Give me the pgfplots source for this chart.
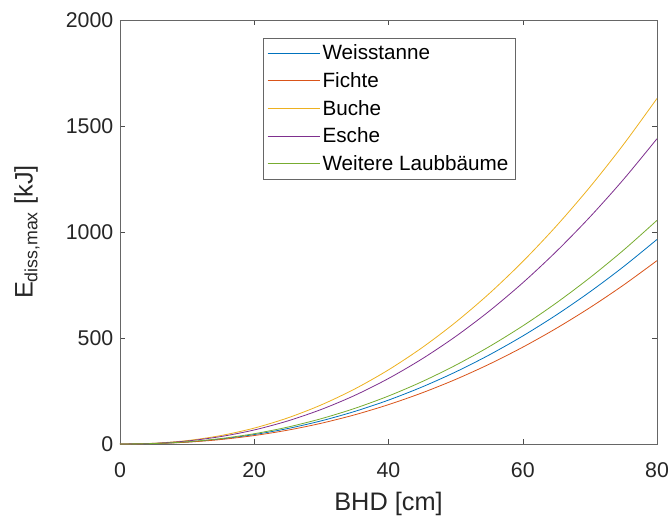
\documentclass[border=0pt]{standalone}
\usepackage{pgfplots}
\pgfplotsset{compat=1.18}
\usepackage{fontspec}
\setmainfont{Liberation Sans}
\definecolor{c1}{rgb}{0,0.447,0.741}
\definecolor{c2}{rgb}{0.85,0.325,0.098}
\definecolor{c3}{rgb}{0.929,0.694,0.125}
\definecolor{c4}{rgb}{0.494,0.184,0.556}
\definecolor{c5}{rgb}{0.466,0.674,0.188}
\definecolor{axgray}{rgb}{0.15,0.15,0.15}
\begin{document}
\begin{tikzpicture}
\begin{axis}[name=ax,
  scale only axis, width=402.75pt, height=318pt,
  xmin=0, xmax=80, ymin=0, ymax=2000,
  xtick={0,20,40,60,80}, ytick={0,500,1000,1500,2000},
  tick align=inside, tick pos=both,
  axis line style={gray!80!black, line width=0.5pt},
  major tick style={gray!60!black},
  major tick length=4pt,
  ticklabel style={font=\fontsize{16}{18}\selectfont, text=axgray},
  xticklabel style={anchor=base, yshift=-24.75pt},
  yticklabel style={xshift=-1.5pt},
  /pgf/number format/assume math mode=true,
  /pgf/number format/set thousands separator={},
  xlabel={BHD [cm]}, ylabel={E\textsubscript{diss,max} [kJ]},
  label style={font=\fontsize{19}{22}\selectfont, text=axgray},
  xlabel style={at={(axis description cs:0.5,-0.1557)}, anchor=base},
  ylabel style={at={(axis description cs:-0.1732,0.5)}, anchor=center},
  legend style={at={(0.266,0.958)}, anchor=north west, draw=gray!80!black,
    font=\fontsize{15.5}{18}\selectfont, row sep=4pt, inner xsep=3pt, inner ysep=3pt},
  legend cell align=left,
  legend image code/.code={\draw[#1] (0pt,0pt) -- (39pt,0pt);},
  every axis plot/.append style={line width=0.6pt, smooth},
]
\addplot[c1] coordinates {(0,0)(5,2.0)(10,9.5)(15,23.5)(20,44.5)(25,73.0)(30,109.4)(35,154.0)(40,207.1)(45,269.0)(50,339.9)(55,420.0)(60,509.5)(65,608.6)(70,717.5)(75,836.2)(80,965)};
\addlegendentry{Weisstanne}
\addplot[c2] coordinates {(0,0)(5,1.8)(10,8.6)(15,21.0)(20,39.9)(25,65.4)(30,98.0)(35,138.0)(40,185.7)(45,241.2)(50,304.7)(55,376.5)(60,456.7)(65,545.6)(70,643.1)(75,749.5)(80,865)};
\addlegendentry{Fichte}
\addplot[c3] coordinates {(0,0)(5,3.5)(10,16.1)(15,39.7)(20,75.1)(25,123.2)(30,184.7)(35,260.1)(40,349.8)(45,454.4)(50,574.2)(55,709.4)(60,860.6)(65,1028.1)(70,1211.9)(75,1412.4)(80,1630)};
\addlegendentry{Buche}
\addplot[c4] coordinates {(0,0)(5,3.1)(10,14.2)(15,35.0)(20,66.3)(25,108.9)(30,163.2)(35,229.7)(40,309.1)(45,401.5)(50,507.2)(55,626.7)(60,760.3)(65,908.2)(70,1070.6)(75,1247.7)(80,1440)};
\addlegendentry{Esche}
\addplot[c5] coordinates {(0,0)(5,2.2)(10,10.4)(15,25.7)(20,48.6)(25,79.8)(30,119.6)(35,168.3)(40,226.4)(45,294.1)(50,371.6)(55,459.2)(60,557.0)(65,665.4)(70,784.4)(75,914.1)(80,1055)};
\addlegendentry{Weitere Laubbäume}
\end{axis}
\pgfresetboundingbox
\path (ax.south west) ++(-90pt,-53.25pt) coordinate (bl);
\path (ax.north east) ++(9.75pt,15pt) coordinate (tr);
\path[use as bounding box] (bl) rectangle (tr);
\end{tikzpicture}
\end{document}
